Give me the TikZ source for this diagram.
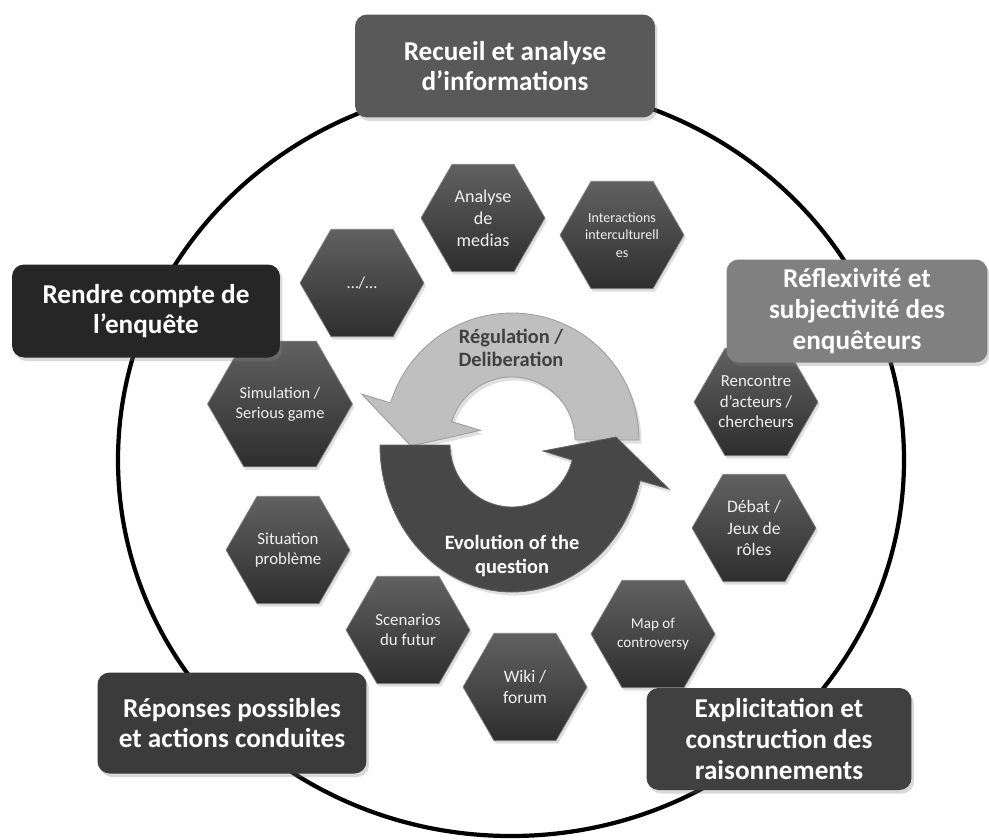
\documentclass[tikz,border=0pt]{standalone}
\usepackage{fontspec}
\setmainfont{Carlito}
\usetikzlibrary{shapes.geometric,shadows}

\begin{document}
\begin{tikzpicture}[
    x=0.02cm, y=-0.02cm,
    phase/.style={rounded corners=2.4mm, align=center, text=white, inner sep=0pt,
        font=\fontsize{15.5}{17.5}\selectfont\bfseries,
        drop shadow={opacity=0.3, shadow xshift=0.5mm, shadow yshift=-0.7mm}},
    hexa/.style={regular polygon, regular polygon sides=6, minimum size=2.48cm, inner sep=0pt,
        align=center, text=black!6, top color=black!62, bottom color=black!82, draw=black!50,
        font=\fontsize{9.6}{11.6}\selectfont,
        drop shadow={opacity=0.25, shadow xshift=0.4mm, shadow yshift=-0.6mm}},
    loop/.style={line width=2.4pt},
    lightarrow/.style={fill=black!25, draw=black!38, line width=0.5pt,
        drop shadow={opacity=0.25, shadow xshift=0.5mm, shadow yshift=-0.7mm}},
    darkarrow/.style={fill=black!72, draw=black!60, line width=0.5pt,
        drop shadow={opacity=0.25, shadow xshift=0.5mm, shadow yshift=-0.7mm}},
    cycletext/.style={align=center, inner sep=0pt, font=\fontsize{11.6}{13.4}\selectfont\bfseries}
]
    \useasboundingbox (0,0) rectangle (989,839);

    % outer loop
    \draw[loop] (511,460) ellipse [x radius=393, y radius=376];

    % central cycle
    \begin{scope}[shift={(512,440)}]
        \path[lightarrow] (0:127) arc[start angle=0, end angle=-163, radius=127] -- (-163:157)
            -- (-101,6) -- (-163:33) -- (-163:63) arc[start angle=-163, end angle=0, radius=63] -- cycle;
    \end{scope}
    \begin{scope}[shift={(512,445)}]
        \path[darkarrow] (180:132) arc[start angle=180, end angle=14, x radius=132, y radius=147] -- (157,44)
            -- (104,-8) -- (31,6) -- (14:62) arc[start angle=14, end angle=180, radius=62] -- cycle;
    \end{scope}
    \node[cycletext, text=black!75] (regul) at (511,348) {Régulation /\\Deliberation};
    \node[cycletext, text=white] (evol) at (512,556) {Evolution of the\\question};

    % activities
    \node[hexa] (etc) at (362,283) {…/…};
    \node[hexa, font=\fontsize{10.3}{12.6}\selectfont] (analyse) at (483,218) {Analyse\\de\\medias};
    \node[hexa, font=\fontsize{8}{9.8}\selectfont] (inter) at (622,235) {Interactions\\interculturell\\es};
    \node[hexa, minimum size=2.62cm, font=\fontsize{9.3}{11.4}\selectfont] (simul) at (280,404) {Simulation /\\Serious game};
    \node[hexa] (situ) at (288,550) {Situation\\problème};
    \node[hexa] (rencontre) at (756,402) {Rencontre\\d’acteurs /\\chercheurs};
    \node[hexa, font=\fontsize{10}{12.2}\selectfont] (debat) at (754,528) {Débat /\\Jeux de\\rôles};
    \node[hexa, font=\fontsize{8.6}{10.6}\selectfont] (map) at (653,634) {Map of\\controversy};
    \node[hexa, font=\fontsize{10}{12.2}\selectfont] (wiki) at (525,687) {Wiki /\\forum};
    \node[hexa] (scen) at (408,630) {Scenarios\\du futur};

    % phases of the inquiry
    \node[phase, fill=black!65, minimum width=6cm, minimum height=2.06cm] (recueil) at (505,66) {Recueil et analyse\\d’informations};
    \node[phase, fill=black!85, minimum width=5.36cm, minimum height=1.86cm] (rendre) at (146,311) {Rendre compte de\\l’enquête};
    \node[phase, fill=black!50, minimum width=5.22cm, minimum height=2.06cm] (reflex) at (857,311) {Réflexivité et\\subjectivité des\\enquêteurs};
    \node[phase, fill=black!77, minimum width=5.38cm, minimum height=2.02cm] (reponses) at (232,723) {Réponses possibles\\et actions conduites};
    \node[phase, fill=black!75, minimum width=5.3cm, minimum height=2.04cm] (explic) at (779,739) {Explicitation et\\construction des\\raisonnements};
\end{tikzpicture}
\end{document}
